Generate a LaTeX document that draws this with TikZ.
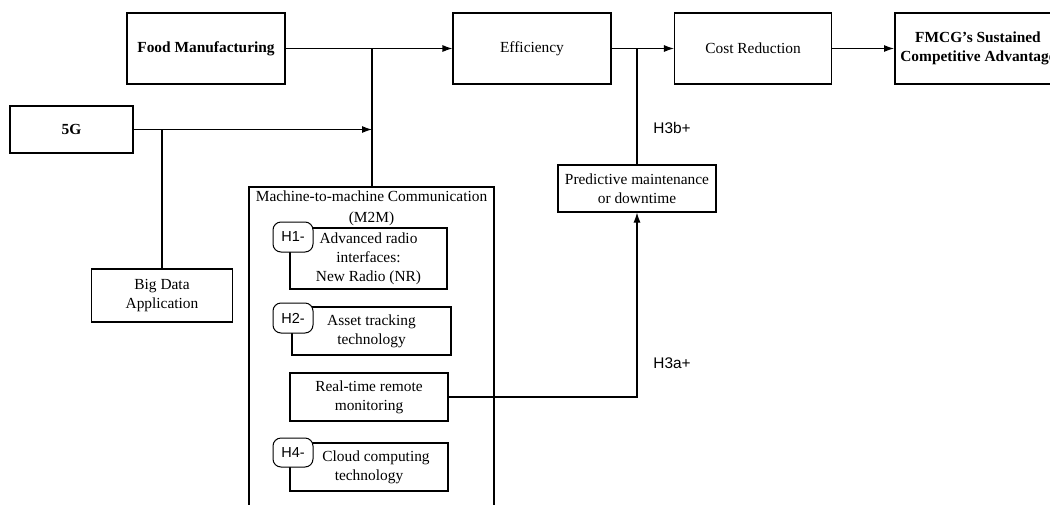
\documentclass[tikz,border=0pt]{standalone}
\usepackage{fontspec}
\setmainfont{Liberation Serif}
\setsansfont{Liberation Sans}
\usetikzlibrary{arrows.meta}

\begin{document}
\begin{tikzpicture}[x=1pt, y=-1pt,
    box/.style={draw, line width=1.1pt, inner sep=0pt, align=center, font=\fontsize{15.4}{19}\selectfont},
    thickbox/.style={box, line width=2pt, font=\fontsize{15.4}{19}\selectfont\bfseries},
    tag/.style={draw, fill=white, rounded corners=8pt, line width=1pt, inner sep=0pt, minimum width=40pt, minimum height=30pt, font=\sffamily\fontsize{14.5}{18}\selectfont},
    arr/.style={-{Latex[length=10pt,width=7pt]}, line width=1.1pt},
    ln/.style={line width=1.1pt},
    hlabel/.style={font=\sffamily\fontsize{15.4}{18}\selectfont}]
            \useasboundingbox (0,0) rectangle (1050,504);
            \clip (0,0) rectangle (1050,504);
            % top row
            \node[thickbox, minimum width=158pt, minimum height=71pt] (food) at (206,48.5) {Food Manufacturing};
            \node[box, minimum width=158pt, minimum height=71pt] (eff) at (532,48.5) {Efficiency};
            \node[box, minimum width=157pt, minimum height=71pt] (cost) at (753,48.5) {Cost Reduction};
            \node[thickbox, minimum width=166pt, minimum height=71pt] (fmcg) at (978,48.5) {FMCG's Sustained\\Competitive Advantage};
            % left side
            \node[thickbox, line width=1.3pt, minimum width=123pt, minimum height=47pt] (g5) at (71.5,129.5) {5G};
            \node[box, minimum width=141pt, minimum height=53pt] (bigdata) at (162,295.5) {Big Data\\Application};
            % M2M frame
            \draw[line width=1.6pt] (249,520) -- (249,187) -- (494,187) -- (494,520);
            \coordinate (m2mtop) at (372,187);
            \node[align=center, font=\fontsize{15.4}{21}\selectfont] (m2m) at (371.5,208.5) {Machine-to-machine Communication\\(M2M)};
            \node[box, minimum width=157pt, minimum height=61pt] (radio) at (368.5,258.5) {Advanced radio\\interfaces:\\New Radio (NR)};
            \node[tag] (h1) at (293,237) {H1-};
            \node[box, minimum width=159pt, minimum height=48pt] (asset) at (371.5,331) {Asset tracking\\technology};
            \node[tag] (h2) at (293,318) {H2-};
            \node[box, minimum width=158pt, minimum height=48pt] (realtime) at (369,397) {Real-time remote\\monitoring};
            \node[box, minimum width=158pt, minimum height=48pt] (cloud) at (369,467) {\hspace*{14pt}Cloud computing\\technology};
            \node[tag, minimum height=29pt] (h4) at (293,452.5) {H4-};
            % right side
            \node[box, minimum width=158pt, minimum height=47pt] (pred) at (637,188.5) {Predictive maintenance\\or downtime};
            % connectors
            \coordinate (j1) at (372,48.5);
            \coordinate (j2) at (162,129.5);
            \coordinate (j3) at (637,48.5);
            \draw[arr] (food) -- (eff);
            \draw[arr] (eff) -- (cost);
            \draw[arr] (cost) -- (fmcg);
            \draw[ln] (j1) -- (m2mtop);
            \draw[arr] (g5) -- (j1 |- g5.east);
            \draw[ln] (j2) -- (bigdata);
            \draw[ln] (j3) -- (pred);
            \draw[arr] (realtime) -- (pred.south |- realtime.east) -- (pred);
            \node[hlabel] (h3b) at (672,128) {H3b+};
            \node[hlabel] (h3a) at (672,363) {H3a+};
\end{tikzpicture}
\end{document}
